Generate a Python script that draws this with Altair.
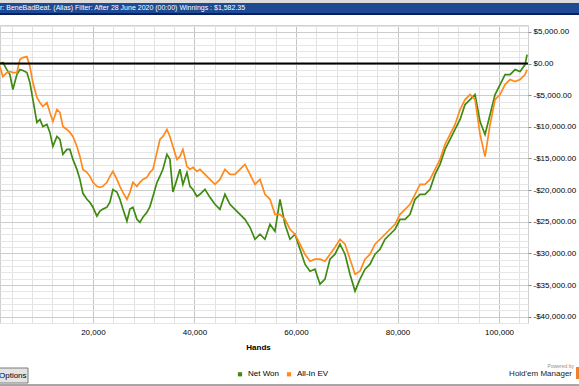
import altair as alt
import pandas as pd

# ---------------- data ----------------
hands = [1670, 2270, 3050, 3650, 4240, 5020, 5620, 6210, 7000, 7590, 8180, 8970, 9560,
         10150, 10940, 11530, 12120, 12910, 13500, 14090, 14880, 15470, 16060, 16850,
         17440, 18030, 18820, 19410, 20000, 20790, 21380, 21970, 22760, 23350, 23940,
         24730, 25320, 25910, 26700, 27290, 27880, 28670, 29260, 29850, 30640, 31230,
         31820, 32610, 33200, 33790, 34580, 35170, 35760, 36550, 37140, 37730, 38520,
         39110, 39700, 40490, 41080, 42070, 43050, 44040, 45020, 46010, 46990, 47980,
         48970, 49950, 50940, 51920, 52910, 53890, 54880, 55860, 56850, 57830, 58820,
         59800, 60790, 61770, 62760, 63740, 64730, 65710, 66700, 67680, 68670, 69660,
         70640, 71630, 72610, 73600, 74580, 75570, 76550, 77540, 78520, 79510, 80490,
         81480, 82460, 83450, 84430, 85420, 86400, 87390, 88370, 89360, 90350, 91330,
         92320, 93300, 94290, 95270, 96260, 97240, 98230, 99210, 100200, 101180, 102170,
         103150, 104140, 105120, 105520]

net_won = [0, 160, -950, -1730, -4100, -1730, -950, -1100, -1420, -3000, -5680, -9300, -8830,
           -9940, -9620, -10880, -13090, -11510, -11990, -14350, -13560, -13560, -15140, -16720,
           -18300, -20500, -21450, -21920, -22700, -24100, -23300, -23000, -22700, -21900, -19900,
           -20300, -21450, -23000, -24900, -23000, -22700, -24600, -25100, -24300, -23500, -22600,
           -21000, -18800, -17800, -16700, -14350, -15140, -20300, -18300, -16700, -19100, -17200,
           -19400, -19900, -21000, -20660, -19870, -21140, -22240, -23030, -20660, -22240, -23030,
           -23820, -24610, -25870, -27760, -26970, -27760, -25390, -26500, -21450, -25390, -27760,
           -26970, -29340, -31700, -32810, -32490, -34860, -34070, -30910, -30130, -28550, -30130,
           -33280, -35960, -34070, -32490, -31700, -30130, -29340, -27760, -26970, -26180, -24610,
           -24610, -23820, -21450, -20660, -20660, -19870, -17510, -15930, -13560, -11990, -10410,
           -8830, -6470, -5680, -4890, -9200, -11200, -8040, -4890, -3310, -1730, -1730,
           -950, -1260, -160, 1420]

all_in_ev = [-470, -2050, -1420, -1260, -1420, -1420, 630, 950, 1100, -470, -3000, -5360, -6150,
             -6780, -6150, -7730, -9150, -7260, -7730, -9940, -10410, -10880, -11510, -13090,
             -14670, -16720, -17190, -17820, -18770, -19400, -19560, -19400, -18770, -17820, -17030,
             -18300, -19400, -20350, -21450, -20350, -18770, -19400, -18770, -18300, -17980, -17190,
             -16720, -14040, -11990, -11510, -10410, -11510, -13090, -15140, -14670, -13560, -16250,
             -16720, -16400, -17030, -16720, -17510, -18300, -19090, -18300, -16720, -17510, -17510,
             -16720, -15930, -17510, -19090, -18300, -20660, -21450, -23820, -23820, -24610, -26180,
             -26970, -28550, -30130, -31230, -30910, -30910, -31230, -30130, -29020, -27760, -28550,
             -30910, -33280, -32810, -30910, -30130, -28550, -27760, -26970, -26180, -25390, -23820,
             -23030, -22240, -20660, -19090, -19090, -18300, -16720, -15140, -12780, -11200, -9620,
             -7260, -5680, -4890, -5680, -11200, -14700, -9620, -5680, -4890, -3310, -2520,
             -2840, -2520, -1730, -950]

series_names = ["Net Won", "All-In EV"]
series_colors = ["#3f8a12", "#ff8a1c"]
y_tick_values = list(range(-41000, 7000, 1000))
x_tick_values = list(range(4000, 108000, 4000))

header_text = "r: BeneBadBeat. (Alias) Filter:  After 28 June 2020 (00:00) Winnings : $1,582.35"

df = pd.DataFrame({
    "Hands": hands * 2,
    "Value": net_won + all_in_ev,
    "Series": [series_names[0]] * len(hands) + [series_names[1]] * len(hands),
    "order": [1] * len(hands) + [0] * len(hands),
})

FONT = "Liberation Sans"
W, H = 528, 298

x_scale = alt.Scale(domain=[1700, 105700], nice=False, zero=False)
y_scale = alt.Scale(domain=[-41000, 6100], nice=False, zero=False)

lines = alt.Chart(df).mark_line(strokeWidth=1.7, clip=True).encode(
    x=alt.X("Hands:Q", scale=x_scale, title="Hands",
            axis=alt.Axis(values=x_tick_values, tickCount=1000,
                          labelExpr="datum.value % 20000 === 0 ? format(datum.value, ',') : ''",
                          gridColor={"condition": {"test": "datum.value % 20000 === 0", "value": "#c4c4c4"}, "value": "#e2e2e2"},
                          tickSize=0, labelPadding=5, domain=False, labelFont=FONT, labelFontSize=8,
                          labelColor="#000", titleFont=FONT, titleFontSize=8, titleFontWeight="bold",
                          titleColor="#000", titlePadding=7, titleX=258, labelOverlap=False,
                          labelFlush=False)),
    y=alt.Y("Value:Q", scale=y_scale, title=None,
            axis=alt.Axis(orient="right", values=y_tick_values, tickCount=1000,
                          labelExpr="datum.value % 5000 === 0 ? (datum.value < 0 ? '-' : '') + '$' + format(abs(datum.value), ',.2f') : ''",
                          gridColor={"condition": {"test": "datum.value % 5000 === 0", "value": "#cdcdcd"}, "value": "#e6e6e6"},
                          tickColor={"condition": {"test": "datum.value % 5000 === 0", "value": "#888"}, "value": "transparent"},
                          tickSize=3, labelPadding=2, domain=False, labelFont=FONT, labelFontSize=8,
                          labelColor="#000", labelOverlap=False, labelFlush=False)),
    color=alt.Color("Series:N", scale=alt.Scale(domain=series_names, range=series_colors),
                    legend=alt.Legend(orient="none", legendX=236, legendY=345, direction="horizontal",
                                      title=None, symbolType="square", symbolSize=4,
                                      symbolStrokeWidth=2.2, labelFont=FONT, labelFontSize=8,
                                      labelColor="#000", columnPadding=4, labelOffset=4)),
    detail="Series:N",
    order=alt.Order("order:Q"),
)

zero_line = alt.Chart(alt.Data(values=[{}])).mark_rule(color="black", strokeWidth=2).encode(
    y=alt.datum(0, scale=y_scale)
)

one = alt.Data(values=[{}])

# header band
top_strip = alt.Chart(one).mark_rect(color="#dcdcdc").encode(
    x=alt.value(0), x2=alt.value(579), y=alt.value(-25), y2=alt.value(-22))
band = alt.Chart(one).mark_rect(color="#1d4a93").encode(
    x=alt.value(0), x2=alt.value(579), y=alt.value(-22), y2=alt.value(-12))
band_edge = alt.Chart(one).mark_rect(color="#08215e").encode(
    x=alt.value(0), x2=alt.value(579), y=alt.value(-12), y2=alt.value(-10))
header = alt.Chart(one).mark_text(text=header_text, color="white", font=FONT, fontSize=7,
                                  align="left", baseline="middle").encode(
    x=alt.value(0), y=alt.value(-17))

# options button
button = alt.Chart(one).mark_rect(fill="#e4e4e4", stroke="#7a7a7a", strokeWidth=1).encode(
    x=alt.value(-6), x2=alt.value(28), y=alt.value(343), y2=alt.value(358))
button_txt = alt.Chart(one).mark_text(text="Options", color="#000", font=FONT, fontSize=8,
                                      align="left", baseline="middle").encode(
    x=alt.value(-1), y=alt.value(351))
bottom_bar = alt.Chart(one).mark_rect(color="#a8a8a8").encode(
    x=alt.value(0), x2=alt.value(579), y=alt.value(359), y2=alt.value(361))

powered = alt.Chart(one).mark_text(text="Powered by", color="#909090", font=FONT, fontSize=5,
                                   align="right", baseline="middle").encode(
    x=alt.value(574), y=alt.value(341))
hm = alt.Chart(one).mark_text(text="Hold'em Manager", color="#222", font=FONT, fontSize=8,
                              align="right", baseline="middle").encode(
    x=alt.value(572), y=alt.value(349))
logo = alt.Chart(one).mark_rect(color="#f08030").encode(
    x=alt.value(576), x2=alt.value(582), y=alt.value(342), y2=alt.value(354))

chart = alt.layer(
    lines, zero_line, top_strip, band, band_edge, header, button, button_txt,
    bottom_bar, powered, hm, logo
).properties(
    width=W, height=H,
    autosize=alt.AutoSizeParams(type="none"),
    padding={"left": 0, "top": 25, "right": 51, "bottom": 63},
    background="white",
).configure_view(stroke="#d0d0d0", strokeWidth=1)

chart.save("out.html", embed_options={"renderer": "svg", "actions": False})
